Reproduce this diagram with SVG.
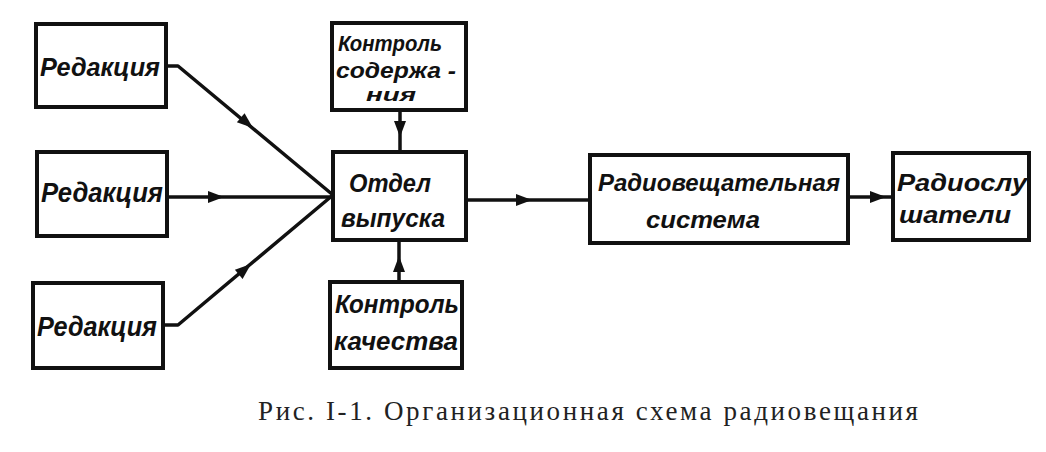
<svg xmlns="http://www.w3.org/2000/svg" xmlns:xlink="http://www.w3.org/1999/xlink" width="1046" height="452" viewBox="0 0 1046 452">
<style>
.box{fill:#fff;stroke:#111;stroke-width:4}
.ln{fill:none;stroke:#111;stroke-width:3.5;stroke-linejoin:round}
.t{font-family:"Liberation Sans",Arial,sans-serif;font-style:italic;font-weight:bold;fill:#111}
.cap{font-family:"Liberation Serif","Times New Roman",serif;font-size:27px;fill:#222}
</style>
<defs>
<path id="ah" d="M0,0 L-16,-6 L-16,6 Z" fill="#111"/>
</defs>
<rect width="1046" height="452" fill="#fff"/>
<g id="connectors">
<path class="ln" d="M166,66 L178,66 L333,195"/>
<path class="ln" d="M167,197 L333,197"/>
<path class="ln" d="M163,325 L178,325 L333,195"/>
<path class="ln" d="M400,110 L400,152"/>
<path class="ln" d="M399,282 L399,240"/>
<path class="ln" d="M467,200 L590,200"/>
<path class="ln" d="M848,197 L893,197"/>
<use xlink:href="#ah" transform="translate(253,128) rotate(39.8)"/>
<use xlink:href="#ah" transform="translate(224,197)"/>
<use xlink:href="#ah" transform="translate(251,264) rotate(-40)"/>
<use xlink:href="#ah" transform="translate(400,137) rotate(90)"/>
<use xlink:href="#ah" transform="translate(399,256) rotate(-90)"/>
<use xlink:href="#ah" transform="translate(532,200)"/>
<use xlink:href="#ah" transform="translate(886,197)"/>
</g>
<g id="red1">
<rect class="box" x="36" y="24" width="130" height="83"/>
<text class="t" x="40" y="76" font-size="26" textLength="120" lengthAdjust="spacingAndGlyphs">Редакция</text>
</g>
<g id="red2">
<rect class="box" x="37" y="152" width="130" height="84"/>
<text class="t" x="41" y="202" font-size="27" textLength="122" lengthAdjust="spacingAndGlyphs">Редакция</text>
</g>
<g id="red3">
<rect class="box" x="33" y="283" width="130" height="85"/>
<text class="t" x="37" y="336" font-size="27" textLength="120" lengthAdjust="spacingAndGlyphs">Редакция</text>
</g>
<g id="kontrol-soderzh">
<rect class="box" x="332" y="23" width="134" height="87"/>
<text class="t" x="338" y="51" font-size="22" textLength="104" lengthAdjust="spacingAndGlyphs">Контроль</text>
<text class="t" x="336" y="78" font-size="22" textLength="120" lengthAdjust="spacingAndGlyphs">содержа -</text>
<text class="t" x="366" y="101" font-size="18" textLength="50" lengthAdjust="spacingAndGlyphs">ния</text>
</g>
<g id="otdel">
<rect class="box" x="333" y="152" width="133" height="88"/>
<text class="t" x="349" y="192" font-size="25" textLength="82" lengthAdjust="spacingAndGlyphs">Отдел</text>
<text class="t" x="341" y="227" font-size="25" textLength="104" lengthAdjust="spacingAndGlyphs">выпуска</text>
</g>
<g id="kontrol-kach">
<rect class="box" x="330" y="282" width="132" height="86"/>
<text class="t" x="335" y="313" font-size="25" textLength="124" lengthAdjust="spacingAndGlyphs">Контроль</text>
<text class="t" x="334" y="350" font-size="25" textLength="124" lengthAdjust="spacingAndGlyphs">качества</text>
</g>
<g id="radiosistema">
<rect class="box" x="590" y="155" width="258" height="88"/>
<text class="t" x="598" y="191" font-size="24" textLength="242" lengthAdjust="spacingAndGlyphs">Радиовещательная</text>
<text class="t" x="646" y="228" font-size="24" textLength="114" lengthAdjust="spacingAndGlyphs">система</text>
</g>
<g id="radioslush">
<rect class="box" x="893" y="153" width="136" height="87"/>
<text class="t" x="897" y="191" font-size="24" textLength="130" lengthAdjust="spacingAndGlyphs">Радиослу</text>
<text class="t" x="899" y="223" font-size="24" textLength="112" lengthAdjust="spacingAndGlyphs">шатели</text>
</g>
<text class="cap" x="258" y="420" textLength="660" lengthAdjust="spacing">Рис. I-1. Организационная схема радиовещания</text>
</svg>
